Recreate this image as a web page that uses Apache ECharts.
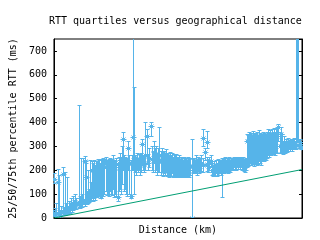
<!DOCTYPE html>
<html>
<head>
<meta charset="utf-8">
<script src="https://cdn.jsdelivr.net/npm/echarts@6/dist/echarts.min.js"></script>
<style>
html,body{margin:0;padding:0;background:#fff;}
#chart{width:320px;height:240px;}
</style>
</head>
<body>
<div id="chart"></div>
<script>
// Distance (km) of each measured destination
const distance = [0,40,160,240,376,480,560,640,776,880,960,1040,1120,1200,1280,1360,1440,1520,1600,1680,1760,1840,2024,2080,2160,2240,2320,2400,2504,2560,2640,2720,2800,2880,2960,3040,
3120,3200,3280,3360,3440,3520,3600,3680,3760,3840,3920,4000,4080,4216,4320,4400,4480,4560,4640,4720,4800,4880,4960,5040,5176,5280,5360,5440,5520,5600,5680,5760,5840,5920,6024,6080,6216,6320,6424,6480,6560,6640,6720,6800,6880,6960,7040,7144,7200,7280,7416,7544,7600,7680,
7840,7920,8000,8104,8160,8240,8320,8400,8536,8640,8720,8800,8880,8960,9040,9120,9200,9280,9360,9440,9520,9600,9680,9760,9840,9920,10000,10080,10160,10240,10320,10400,10480,10560,10640,10720,10800,10880,10960,11040,11176,11280,11360,
11440,11520,11600,11680,11760,11840,11920,12024,12080,12240,12376,12400,12480,12560,12696,12800,12880,12960,13040,13120,13200,13280,13360,13440,13520,13624,13680,13760,13840,13920,14000,14080,14160,14240,14320,14400,14480,14560,14640,14720,14800,14880,14960,15040,15120,15200,15280,15360,
15440,15520,15600,15680,15760,15840,15920,16000,16080,16160,16240,16320,16400,16480,16560,16640,16720,16800,16880,16960,17040,17120,17200,17280,17360,17440,17520,17600,17680,17760,17840,17920,18000,18136,18240,18320,18400,18480,18560,18640,18720,18800,18880,18960,19040,19120,19200,19280,19360,19440,19520,19560,19640,19720,19760,19864,19960];
// 25th percentile RTT (ms)
const q25 = [10,145,5,8,15,10,5,10,20,15,10,15,20,15,25,20,30,25,30,35,40,35,40,45,40,50,45,55,60,50,60,55,60,65,70,75,
80,70,80,75,90,85,90,95,80,80,100,90,100,110,95,100,90,110,100,95,120,85,100,90,70,110,120,100,140,200,110,120,100,90,200,100,80,200,200,100,190,180,200,190,200,180,190,220,200,190,200,230,200,210,
340,200,190,230,190,200,180,190,190,180,190,175,185,180,190,175,180,170,180,175,185,170,175,180,170,175,180,170,175,180,170,175,170,180,175,170,180,175,170,180,0,185,190,
185,190,180,195,185,190,195,300,190,240,290,195,190,200,210,180,175,180,175,185,175,180,185,190,180,84,190,185,195,190,195,185,195,190,200,205,200,210,205,200,210,205,210,205,210,200,205,195,
190,200,210,215,220,230,220,225,230,215,225,230,220,225,235,230,220,235,240,235,245,240,250,260,255,265,260,270,265,270,260,275,270,320,270,275,270,265,275,270,280,275,280,285,280,285,280,290,285,290,285,320,315,318,290,300,285];
// Median RTT (ms)
const median = [18,161,15,20,147,25,12,22,182,30,25,35,40,30,45,35,50,40,55,50,60,55,65,55,60,70,65,75,238,70,168,75,80,85,95,100,
200,110,190,105,210,120,215,200,130,91,220,230,210,238,225,215,220,230,215,225,230,200,210,225,84,230,240,220,250,329,225,230,215,220,290,230,91,230,339,250,230,220,240,225,235,220,230,308,230,225,260,343,230,250,
385,245,240,273,235,250,230,245,260,235,240,230,245,225,235,225,230,220,225,215,230,220,215,225,210,220,215,210,220,210,205,215,205,215,210,205,215,210,200,215,0,215,220,
210,230,215,225,220,215,230,332,220,273,315,225,215,230,238,200,190,205,195,210,190,205,215,210,200,215,220,210,225,215,220,210,225,215,225,230,225,235,228,230,235,225,232,230,235,228,232,220,
215,225,320,240,330,260,335,250,340,245,325,270,330,255,340,265,320,275,330,280,320,290,330,345,300,340,310,350,330,345,320,355,340,378,300,350,310,290,305,295,305,300,310,300,295,310,300,305,310,300,305,800,820,850,305,315,295];
// 75th percentile RTT (ms)
const q75 = [30,185,40,60,203,180,30,50,210,45,190,60,170,50,70,60,80,65,90,75,100,80,472,80,90,250,100,250,259,240,230,110,200,120,240,150,
238,230,240,220,238,235,245,240,230,245,240,250,245,253,240,235,245,250,240,245,260,240,235,250,220,255,270,250,300,360,260,255,245,250,320,260,240,260,900,547,260,255,270,250,265,260,270,330,260,255,399,370,265,290,
400,300,280,320,290,300,270,290,378,280,290,275,280,270,285,265,270,260,275,260,270,255,265,260,255,265,255,250,260,245,255,250,240,255,245,250,240,255,245,250,329,245,250,
240,260,245,255,250,245,260,371,250,290,362,255,245,255,260,230,220,235,225,240,230,245,240,235,240,250,245,250,255,240,250,245,255,240,250,245,250,255,250,245,255,250,255,250,255,250,255,245,
240,250,350,345,360,350,355,340,362,350,355,350,360,345,365,355,350,345,360,355,350,345,360,370,360,365,355,370,360,375,360,370,375,390,360,380,350,320,340,320,330,320,335,325,320,330,325,330,335,320,330,900,900,900,330,330,310];
// Reference line (distance km, RTT ms)
const lineDistance = [0, 20000];
const lineRtt = [0, 203];

const BLUE = '#56b4e9';
const GREEN = '#009e73';
const FONT = 'DejaVu Sans Mono';

const pointData = distance.map((d, i) => [d, q25[i], median[i], q75[i]]);
const lineData = lineDistance.map((d, i) => [d, lineRtt[i]]);

const chart = echarts.init(document.getElementById('chart'), null, {renderer: 'canvas'});
const yCommon = {
  type: 'value', min: 0, max: 750, interval: 100,
  splitLine: {show: false},
  axisLine: {show: true, lineStyle: {color: '#000', width: 1}},
  axisTick: {show: true, inside: true, length: 3, lineStyle: {color: '#000'}}
};
chart.setOption({
  animation: false,
  backgroundColor: '#fff',
  title: {
    text: 'RTT quartiles versus geographical distance',
    left: 49, top: 16, padding: 0,
    textStyle: {fontFamily: FONT, fontSize: 10, fontWeight: 'normal', color: '#000'}
  },
  grid: {left: 52, right: 18, top: 39, bottom: 22, show: true, borderColor: '#000', borderWidth: 1, backgroundColor: 'transparent'},
  xAxis: {
    type: 'value', min: 0, max: 20000,
    name: 'Distance (km)', nameLocation: 'middle', nameGap: 7,
    nameTextStyle: {fontFamily: FONT, fontSize: 10, color: '#000'},
    axisLabel: {show: false}, axisTick: {show: false}, splitLine: {show: false},
    axisLine: {show: true, onZero: false, lineStyle: {color: '#000'}}
  },
  yAxis: [
    Object.assign({}, yCommon, {
      position: 'left',
      name: '25/50/75th percentile RTT (ms)', nameLocation: 'middle', nameGap: 34,
      nameTextStyle: {fontFamily: FONT, fontSize: 10, color: '#000'},
      axisLabel: {show: true, fontFamily: FONT, fontSize: 10, color: '#000', margin: 7, showMaxLabel: false}
    }),
    Object.assign({}, yCommon, {position: 'right', axisLabel: {show: false}})
  ],
  series: [
    {
      type: 'custom',
      clip: true,
      data: pointData,
      renderItem: function (params, api) {
        const x = api.value(0);
        const pLo = api.coord([x, api.value(1)]);
        const pMid = api.coord([x, api.value(2)]);
        const pHi = api.coord([x, api.value(3)]);
        const cx = Math.round(pMid[0] - 0.5) + 0.5;
        const ylo = Math.round(pLo[1] - 0.5) + 0.5;
        const yhi = Math.round(pHi[1] - 0.5) + 0.5;
        const cy = Math.round(pMid[1] - 0.5) + 0.5;
        const st = {stroke: BLUE, lineWidth: 1, fill: null};
        const r = 3, d = 2;
        const ch = [
          {type: 'line', shape: {x1: cx, y1: ylo, x2: cx, y2: yhi}, style: st},
          {type: 'line', shape: {x1: cx - 2, y1: ylo, x2: cx + 2, y2: ylo}, style: st},
          {type: 'line', shape: {x1: cx - 2, y1: yhi, x2: cx + 2, y2: yhi}, style: st},
          {type: 'line', shape: {x1: cx - r, y1: cy, x2: cx + r, y2: cy}, style: st},
          {type: 'line', shape: {x1: cx, y1: cy - r, x2: cx, y2: cy + r}, style: st},
          {type: 'line', shape: {x1: cx - d, y1: cy - d, x2: cx + d, y2: cy + d}, style: st},
          {type: 'line', shape: {x1: cx - d, y1: cy + d, x2: cx + d, y2: cy - d}, style: st}
        ];
        return {type: 'group', children: ch};
      },
      z: 2
    },
    {
      type: 'line',
      data: lineData,
      symbol: 'none',
      lineStyle: {color: GREEN, width: 1},
      z: 3
    }
  ]
});
</script>
</body>
</html>
